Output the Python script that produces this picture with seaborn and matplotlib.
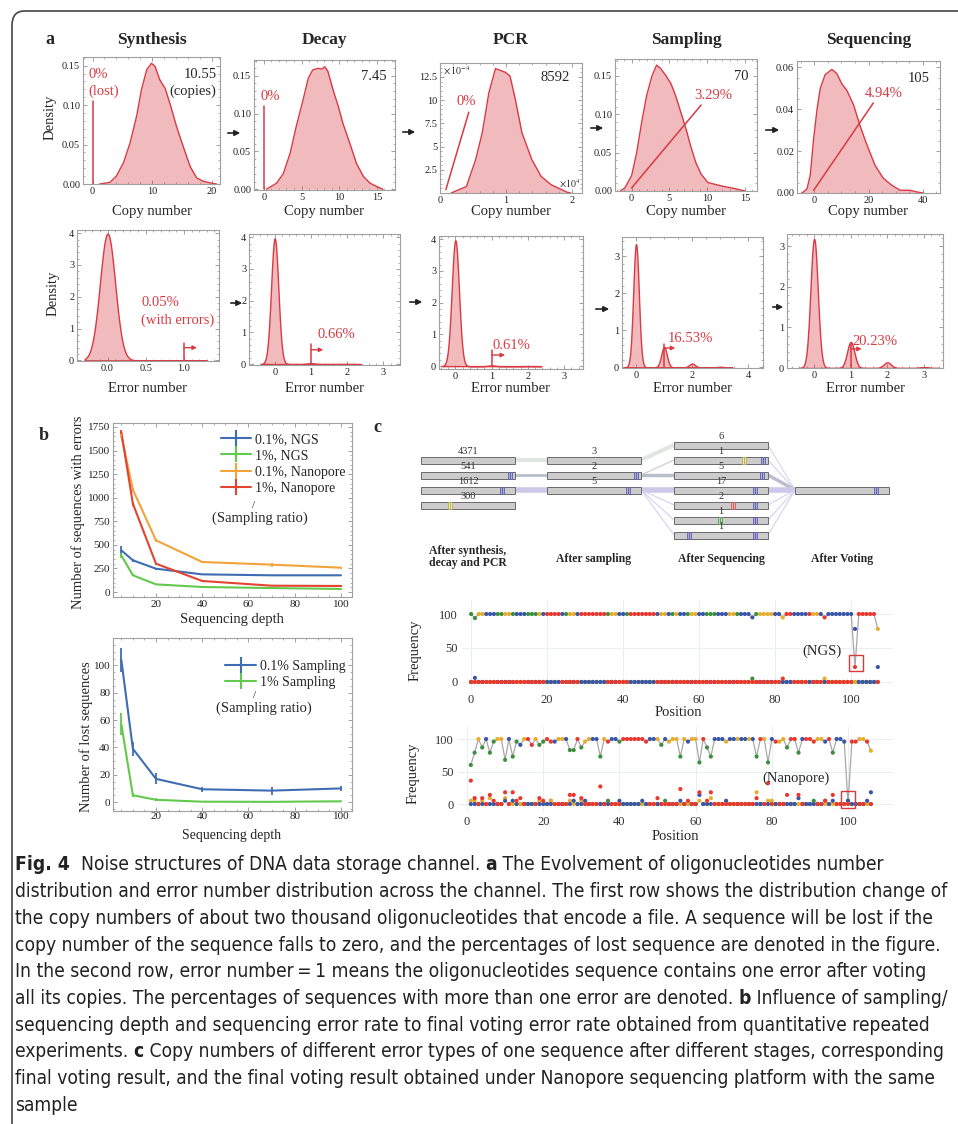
import numpy as np
import pandas as pd
import seaborn as sns
import matplotlib.pyplot as plt
from matplotlib.ticker import AutoMinorLocator, FixedLocator
from matplotlib.patches import FancyBboxPatch, FancyArrowPatch, Rectangle
from matplotlib.lines import Line2D
from matplotlib import font_manager

W, H = 958, 1124
sns.set_style("ticks")
plt.rcParams['font.family'] = ['Liberation Serif', 'DejaVu Serif']
plt.rcParams['mathtext.fontset'] = 'stix'

RED = '#d83a43'

# ---------------- panel a data ----------------
stages = ['Synthesis', 'Decay', 'PCR', 'Sampling', 'Sequencing']
mean_copies = ['10.55', '7.45', '8592', '70', '105']
lost_pct = ['0%', '0%', '0%', '3.29%', '4.94%']
err_pct = ['0.05%', '0.66%', '0.61%', '16.53%', '20.23%']

# copy number densities
syn_x = [1.2, 2.9, 4.0, 5.2, 6.3, 7.4, 8.2, 9.1, 9.9, 10.5, 11.3, 12.2, 13.0, 14.1, 15.2, 16.4, 17.5, 18.6, 20.0, 20.8]
syn_y = [0, 0.002, 0.010, 0.027, 0.052, 0.086, 0.119, 0.145, 0.153, 0.149, 0.132, 0.121, 0.102, 0.073, 0.048, 0.022, 0.0076, 0.0034, 0.001, 0]
dec_x = [0.35, 1.7, 2.6, 3.5, 4.3, 5.2, 5.9, 6.5, 7.2, 7.7, 8.1, 8.5, 9.2, 9.9, 10.5, 11.4, 12.3, 13.2, 14.1, 15.0, 15.8]
dec_y = [0, 0.008, 0.021, 0.048, 0.083, 0.118, 0.147, 0.158, 0.160, 0.159, 0.162, 0.156, 0.131, 0.109, 0.087, 0.061, 0.034, 0.017, 0.008, 0.0035, 0]
pcr_x = [0.17, 0.40, 0.54, 0.64, 0.74, 0.84, 0.99, 1.06, 1.14, 1.24, 1.39, 1.53, 1.68, 1.83, 1.93, 1.98]  # x1e4
pcr_y = [0, 0.7, 3.6, 6.5, 10.8, 13.4, 13.0, 12.6, 10.1, 6.5, 3.6, 1.8, 0.9, 0.4, 0.07, 0]  # x1e-4
smp_x = [-1.5, -0.9, 0, 0.67, 1.34, 2.0, 2.7, 3.3, 3.8, 4.5, 5.2, 5.8, 6.5, 7.2, 7.8, 8.5, 9.2, 10.1, 11.9, 13.7, 15.0]
smp_y = [0, 0.004, 0.02, 0.05, 0.09, 0.125, 0.15, 0.164, 0.16, 0.151, 0.14, 0.125, 0.103, 0.081, 0.059, 0.037, 0.022, 0.011, 0.0066, 0.003, 0]
seq_x = [-4.5, -2.7, -1.5, -0.25, 1.0, 2.2, 4.0, 6.5, 8.3, 10.2, 12, 14.5, 16.9, 19.4, 22.5, 25.5, 28.6, 31.7, 35.3, 37.8, 40.2]
seq_y = [0, 0.002, 0.0085, 0.026, 0.04, 0.05, 0.0565, 0.059, 0.057, 0.052, 0.049, 0.042, 0.032, 0.023, 0.013, 0.007, 0.0037, 0.0013, 0.0013, 0.0005, 0]
copy_curves = [(syn_x, syn_y), (dec_x, dec_y), (pcr_x, pcr_y), (smp_x, smp_y), (seq_x, seq_y)]

# error number per sequence: values and share of sequences
err_vals = [[0, 1], [0, 1, 2], [0, 1, 2], [0, 1, 2, 3], [0, 1, 2, 3]]
err_share = [[0.9995, 0.0005],
             [0.9934, 0.0060, 0.0006],
             [0.9939, 0.0055, 0.0006],
             [0.8347, 0.1375, 0.025, 0.003],
             [0.7977, 0.161, 0.0353, 0.006]]

# ---------------- panel b data ----------------
depth = [5, 10, 20, 40, 70, 100]
ngs_01 = [442, 336, 247, 187, 177, 177]
ngs_01_err = [45, 15, 10, 8, 8, 6]
ngs_1 = [389, 177, 81, 53, 42, 32]
ngs_1_err = [25, 10, 8, 5, 5, 5]
nano_01 = [1660, 1085, 548, 318, 290, 258]
nano_01_err = [20, 20, 15, 10, 20, 10]
nano_1 = [1696, 936, 300, 117, 67, 64]
nano_1_err = [20, 20, 10, 8, 8, 6]
lost_01 = [104, 39, 17, 9.4, 8.4, 10]
lost_01_err = [9, 5, 4, 2, 3, 2]
lost_1 = [57, 5, 1.7, 0.3, 0.2, 0.6]
lost_1_err = [8, 1.5, 1, 0.3, 0.3, 0.3]

# ---------------- panel c data ----------------
stage_names = ['After synthesis,\ndecay and PCR', 'After sampling', 'After Sequencing', 'After Voting']
stage_counts = [[4371, 541, 1612, 300], [3, 2, 5], [6, 1, 5, 17, 2, 1, 1], [None]]
stage_rows = [[-2, -1, 0, 1], [-2, -1, 0], [-3, -2, -1, 0, 1, 2, 3], [0]]
stage_marks = [[[], [(101, 'b')], [(92, 'b')], [(33, 'y')]],
               [[], [(101, 'b')], [(92, 'b')]],
               [[], [(80, 'y'), (101, 'b')], [(100, 'b')], [(92, 'b')], [(67, 'r'), (92, 'b')],
                [(52, 'g'), (92, 'b')], [(17, 'b'), (92, 'b')]],
               [[(92, 'b')]]]
# (from stage, from row, to row, width, colour)
links = [(0, -2, -2, 3, '#dfe5df'), (0, -1, -1, 2, '#b9c0cc'), (0, 0, 0, 4, '#cdc8ea'),
         (1, -2, -3, 3, '#e2e6e2'), (1, -1, -2, 1, '#d0d4dc'), (1, -1, -1, 2.5, '#b9c0cc'),
         (1, 0, 0, 4, '#cdc8ea'), (1, 0, 1, 0.8, '#d5d2ee'), (1, 0, 2, 0.8, '#d5d2ee'), (1, 0, 3, 0.8, '#d5d2ee'),
         (2, -3, 0, 1, '#dde0e6'), (2, -2, 0, 0.8, '#d5d2ee'), (2, -1, 0, 2.5, '#b9c0cc'), (2, 0, 0, 4, '#cdc8ea'),
         (2, 1, 0, 0.8, '#d5d2ee'), (2, 2, 0, 0.8, '#d5d2ee'), (2, 3, 0, 0.8, '#d5d2ee')]

# per-position base frequencies of the reference base, NGS and Nanopore
ngs_bases = ("ggoobbbggo" "ogbbbgggob" "rrrrbgoobr" "rrrrrrgoob" "bgrrrrrrrb"
             "oobgobbgoo" "bbgggbbboo" "gbbbbgoooo" "bborrbbbbr" "oobrbbbbbb" "brrrrrro")
ngs_freq = [100, 94, 100, 100, 100, 100, 100, 100, 100, 100,
            100, 100, 100, 100, 100, 100, 100, 100, 100, 100,
            100, 100, 100, 100, 100, 100, 100, 100, 100, 100,
            100, 100, 100, 100, 100, 100, 100, 100, 100, 100,
            100, 100, 100, 100, 100, 100, 100, 100, 100, 100,
            100, 100, 100, 100, 100, 100, 100, 100, 100, 100,
            100, 100, 100, 100, 100, 100, 100, 100, 100, 100,
            100, 100, 100, 100, 95, 100, 100, 100, 100, 100,
            100, 100, 95, 100, 100, 100, 100, 100, 100, 100,
            100, 100, 100, 95, 100, 100, 100, 100, 100, 100,
            100, 22, 100, 100, 100, 100, 100, 78]
ngs_minor = [(1, 'b', 6), (74, 'g', 5), (82, 'r', 5), (93, 'o', 5), (101, 'b', 78), (107, 'b', 22)]

nano_bases = ("ggogbggoog" "bggborrogg" "rrboobggrg" "oobbgorbbg" "rrrrrrrbbo"
              "gbooogoboo" "grggbbbobb" "obbobgrogb" "roogrrgbrr" "roobrgbbbr" "rrooro")
nano_freq = [60, 79, 100, 87, 100, 79, 96, 100, 100, 68,
             100, 73, 96, 91, 100, 100, 91, 100, 91, 96,
             100, 96, 96, 100, 100, 100, 83, 83, 100, 87,
             96, 100, 100, 100, 73, 100, 96, 100, 100, 96,
             100, 100, 100, 100, 100, 100, 96, 100, 100, 100,
             91, 100, 96, 100, 100, 73, 100, 96, 100, 100,
             64, 100, 87, 73, 100, 100, 100, 96, 100, 100,
             100, 100, 100, 100, 100, 73, 100, 100, 64, 100,
             96, 96, 100, 87, 100, 100, 79, 100, 100, 100,
             96, 100, 100, 96, 100, 79, 100, 100, 96, 0,
             96, 96, 100, 100, 96, 82]
nano_minor = [(1, 'r', 36), (1, 'o', 5), (2, 'r', 9), (2, 'o', 5), (4, 'r', 9), (4, 'o', 5), (6, 'r', 14),
              (6, 'o', 9), (7, 'r', 5), (10, 'r', 18), (10, 'o', 9), (10, 'b', 5), (12, 'r', 18), (12, 'b', 5),
              (13, 'r', 5), (14, 'r', 9), (19, 'r', 9), (19, 'o', 5), (20, 'r', 5), (22, 'g', 5), (22, 'o', 5),
              (27, 'r', 14), (27, 'o', 5), (28, 'r', 14), (28, 'b', 5), (30, 'r', 9), (30, 'o', 5), (31, 'b', 5),
              (35, 'r', 27), (37, 'g', 5), (40, 'b', 5), (46, 'b', 5), (50, 'r', 9), (52, 'g', 5), (56, 'r', 23),
              (56, 'b', 5), (58, 'r', 5), (61, 'r', 18), (61, 'b', 14), (61, 'o', 5), (63, 'r', 5), (64, 'r', 18),
              (64, 'o', 9), (68, 'b', 5), (76, 'o', 18), (76, 'r', 9), (79, 'r', 32), (79, 'o', 5), (80, 'o', 5),
              (84, 'r', 14), (87, 'r', 14), (87, 'b', 9), (91, 'g', 5), (94, 'r', 5), (94, 'g', 5), (96, 'r', 14),
              (96, 'b', 5), (100, 'g', 5), (100, 'b', 5), (100, 'o', 5), (105, 'b', 5), (106, 'b', 18)]
base_pal = {'r': '#e8382f', 'b': '#3a56a8', 'g': '#3d8f3d', 'o': '#e6ad2f'}

caption = [
    [("Fig. 4", True), ("  Noise structures of DNA data storage channel. ", False), ("a", True),
     (" The Evolvement of oligonucleotides number", False)],
    [("distribution and error number distribution across the channel. The first row shows the distribution change of", False)],
    [("the copy numbers of about two thousand oligonucleotides that encode a file. A sequence will be lost if the", False)],
    [("copy number of the sequence falls to zero, and the percentages of lost sequence are denoted in the figure.", False)],
    [("In the second row, error number\u2009=\u20091 means the oligonucleotides sequence contains one error after voting", False)],
    [("all its copies. The percentages of sequences with more than one error are denoted. ", False), ("b", True),
     (" Influence of sampling/", False)],
    [("sequencing depth and sequencing error rate to final voting error rate obtained from quantitative repeated", False)],
    [("experiments. ", False), ("c", True),
     (" Copy numbers of different error types of one sequence after different stages, corresponding", False)],
    [("final voting result, and the final voting result obtained under Nanopore sequencing platform with the same", False)],
    [("sample", False)],
]

# ---------------- helpers ----------------
fig = plt.figure(figsize=(W / 100, H / 100), dpi=100)


def px_axes(x0, y0, x1, y1):
    return fig.add_axes([x0 / W, 1 - y1 / H, (x1 - x0) / W, (y1 - y0) / H])


def ftext(x, y, s, **kw):
    return fig.text(x / W, 1 - y / H, s, **kw)


def farrow(x0, y0, x1, y1):
    fig.patches.append(FancyArrowPatch((x0 / W, 1 - y0 / H), (x1 / W, 1 - y1 / H), transform=fig.transFigure,
                                       arrowstyle='-|>', mutation_scale=8, lw=1.2, color='#222222'))


def frame_style(ax, size=7.5):
    for sp in ax.spines.values():
        sp.set_visible(True)
        sp.set_color('#a0a0a0')
        sp.set_linewidth(0.8)
    ax.tick_params(which='both', direction='in', top=True, right=True, color='#909090',
                   labelsize=size, labelcolor='#222222', pad=2)
    ax.tick_params(which='major', length=3, width=0.6)
    ax.tick_params(which='minor', length=1.5, width=0.5)
    ax.xaxis.set_minor_locator(AutoMinorLocator())
    ax.yaxis.set_minor_locator(AutoMinorLocator())
    ax.set_xlabel('')
    ax.set_ylabel('')


# frame of the figure
fig.patches.append(FancyBboxPatch((12 / W, -0.2), 1.2, 1.2 - 11 / H, transform=fig.transFigure,
                                  boxstyle='round,pad=0,rounding_size=0.013', fc='none', ec='#444444', lw=1.2))

# ---------------- panel a ----------------
row1_boxes = [(83, 57, 220, 184), (254, 60, 395, 190), (440, 63, 582, 193), (615, 59, 757, 191), (797, 61, 940, 193)]
row1_xlim = [(-1.6, 21.4), (-1.3, 17.4), (0, 2.15), (-2.2, 16.6), (-6.4, 46.4)]
row1_ylim = [(0, 0.161), (-0.001, 0.171), (0, 14.0), (0, 0.172), (0, 0.063)]
row1_xt = [[0, 10, 20], [0, 5, 10, 15], [0, 1, 2], [0, 5, 10, 15], [0, 20, 40]]
row1_yt = [[0, 0.05, 0.1, 0.15], [0, 0.05, 0.1, 0.15], [2.5, 5, 7.5, 10, 12.5], [0, 0.05, 0.1, 0.15],
           [0, 0.02, 0.04, 0.06]]
row2_boxes = [(77, 230, 219, 361), (249, 234, 400, 365), (439, 236, 583, 369), (622, 237, 763, 368), (787, 234, 943, 368)]
row2_xlim = [(-0.4, 1.46), (-0.71, 3.46), (-0.45, 3.52), (-0.5, 4.53), (-0.74, 3.52)]
row2_ylim = [(-0.02, 4.1), (-0.03, 4.1), (-0.09, 4.1), (-0.02, 3.52), (0, 3.3)]
row2_xt = [[0, 0.5, 1.0], [0, 1, 2, 3], [0, 1, 2, 3], [0, 2, 4], [0, 1, 2, 3]]
row2_yt = [[0, 1, 2, 3, 4], [0, 1, 2, 3, 4], [0, 1, 2, 3, 4], [0, 1, 2, 3], [0, 1, 2, 3]]

# annotation layout (data coords)
lost_line = [((0, 0), (0, 0.105)), ((0, 0), (0, 0.11)), ((0.089, 0.36), (0.436, 8.7)),
             ((0, 0.004), (9.2, 0.112)), ((-0.25, 0.0013), (21.8, 0.043))]
lost_txt = [(-0.7, 0.139, 'left'), (-0.44, 0.123, 'left'), (0.396, 9.9, 'center'),
            (10.8, 0.124, 'center'), (25.5, 0.0475, 'center')]
mean_txt = [(20.8, 0.139), (16.3, 0.149), (1.97, 12.4), (15.5, 0.149), (42.7, 0.0545)]
mark_top = [0.54, 0.63, 0.5, 0.64, 0.62]
mark_arrow = [(0.4, 1.17), (0.45, 1.34), (0.35, 1.37), (0.52, 1.4), (0.47, 1.3)]
err_txt = [(0.44, 1.82), (1.18, 0.92), (1.02, 0.66), (1.12, 0.79), (1.05, 0.66)]

ftext(50, 40, 'a', fontsize=13, fontweight='bold', ha='center', va='center')
for i in range(5):
    # copy number row
    ax = px_axes(*row1_boxes[i])
    xs, ys = copy_curves[i]
    sns.lineplot(x=xs, y=ys, ax=ax, color=RED, lw=1)
    ax.fill_between(xs, ys, color=RED, alpha=0.35, lw=0)
    (lx0, ly0), (lx1, ly1) = lost_line[i]
    ax.plot([lx0, lx1], [ly0, ly1], color=RED, lw=1.1)
    tx, ty, tha = lost_txt[i]
    ax.text(tx, ty, lost_pct[i], color=RED, fontsize=10.5, ha=tha, va='center')
    if i == 0:
        ax.text(tx, 0.117, '(lost)', color=RED, fontsize=10.5, ha='left', va='center')
        ax.text(mean_txt[i][0], 0.117, '(copies)', fontsize=10.5, ha='right', va='center')
    ax.text(mean_txt[i][0], mean_txt[i][1], mean_copies[i], fontsize=10.5, ha='right', va='center')
    ax.set_xlim(*row1_xlim[i])
    ax.set_ylim(*row1_ylim[i])
    frame_style(ax)
    ax.xaxis.set_major_locator(FixedLocator(row1_xt[i]))
    ax.yaxis.set_major_locator(FixedLocator(row1_yt[i]))
    if i == 2:
        ax.set_xticklabels(['0', '1', '2'])
        ax.set_yticklabels(['2.5', '5', '7.5', '10', '12.5'])
        ax.text(0.02, 0.985, r'$\times\,10^{-4}$', transform=ax.transAxes, fontsize=7, ha='left', va='top')
        ax.text(0.985, 0.02, r'$\times10^{4}$', transform=ax.transAxes, fontsize=7, ha='right', va='bottom')
    else:
        ax.set_yticklabels(['%.2f' % v for v in row1_yt[i]])
        ax.set_xticklabels([str(v) for v in row1_xt[i]])
    cx = (row1_boxes[i][0] + row1_boxes[i][2]) / 2
    ftext(cx, 40, stages[i], fontsize=12.5, fontweight='bold', ha='center', va='center')
    ftext(cx, 212, 'Copy number', fontsize=10.5, ha='center', va='center')

    # error number row
    ax = px_axes(*row2_boxes[i])
    vals = np.array(err_vals[i], dtype=float)
    w = np.array(err_share[i])
    bw = 0.1 / np.sqrt(np.cov(vals, aweights=w))
    sns.kdeplot(x=vals, weights=w, bw_method=bw, fill=True, color=RED, alpha=0.35, linewidth=1,
                gridsize=800, ax=ax)
    ax.plot([1, 1], [0, mark_top[i]], color=RED, lw=1.1)
    ay, ax1 = mark_arrow[i]
    ax.annotate('', xy=(ax1, ay), xytext=(1, ay),
                arrowprops=dict(arrowstyle='-|>', color=RED, lw=1, mutation_scale=6, shrinkA=0, shrinkB=0))
    ex, ey = err_txt[i]
    ax.text(ex, ey, err_pct[i], color=RED, fontsize=10.5, ha='left', va='center')
    if i == 0:
        ax.text(ex, 1.25, '(with errors)', color=RED, fontsize=10.5, ha='left', va='center')
    ax.set_xlim(*row2_xlim[i])
    ax.set_ylim(*row2_ylim[i])
    frame_style(ax)
    ax.xaxis.set_major_locator(FixedLocator(row2_xt[i]))
    ax.yaxis.set_major_locator(FixedLocator(row2_yt[i]))
    if i == 0:
        ax.set_xticklabels(['0.0', '0.5', '1.0'])
    else:
        ax.set_xticklabels([str(v) for v in row2_xt[i]])
    ax.set_yticklabels([str(v) for v in row2_yt[i]])
    cx = (row2_boxes[i][0] + row2_boxes[i][2]) / 2
    ftext(cx, 389, 'Error number', fontsize=10.5, ha='center', va='center')

ftext(50, 117, 'Density', fontsize=10.5, rotation=90, ha='center', va='center')
ftext(53, 293, 'Density', fontsize=10.5, rotation=90, ha='center', va='center')

for (x0, y0, x1, y1) in [(225, 133, 243, 133), (400, 132, 418, 132), (588, 128, 606, 128), (763, 130, 782, 130),
                         (228, 303, 245, 303), (407, 302, 425, 302), (593, 309, 612, 309), (770, 307, 786, 307)]:
    farrow(x0, y0, x1, y1)

# ---------------- panel b ----------------
ftext(44, 435, 'b', fontsize=13, fontweight='bold', ha='center', va='center')
b_pal = {'0.1%, NGS': '#3f6db3', '1%, NGS': '#62c94d', '0.1%, Nanopore': '#f2a33a', '1%, Nanopore': '#e2452f'}
b_vals = {'0.1%, NGS': (ngs_01, ngs_01_err), '1%, NGS': (ngs_1, ngs_1_err),
          '0.1%, Nanopore': (nano_01, nano_01_err), '1%, Nanopore': (nano_1, nano_1_err)}
df_b = pd.DataFrame([(d, v, k) for k, (vs, _) in b_vals.items() for d, v in zip(depth, vs)],
                    columns=['depth', 'count', 'series'])

ax = px_axes(113, 423, 352, 597)
sns.lineplot(data=df_b, x='depth', y='count', hue='series', palette=b_pal, lw=1.5, legend=False, ax=ax)
for k, (vs, es) in b_vals.items():
    ax.errorbar(depth, vs, yerr=es, fmt='none', ecolor=b_pal[k], elinewidth=1.3, capsize=0)
ax.set_xlim(1.4, 104.8)
ax.set_ylim(-53, 1792)
frame_style(ax, size=8)
ax.xaxis.set_major_locator(FixedLocator([20, 40, 60, 80, 100]))
ax.yaxis.set_major_locator(FixedLocator([0, 250, 500, 750, 1000, 1250, 1500, 1750]))
handles = [Line2D([0], [0], color=c, lw=1.5, marker='|', markersize=11, markeredgewidth=1.5) for c in b_pal.values()]
ax.legend(handles, list(b_pal.keys()), loc='upper left', bbox_to_anchor=(0.41, 1.0), frameon=False, fontsize=10,
          handlelength=2.2, labelspacing=0.25, handletextpad=0.3, borderpad=0.2)
ftext(254, 505, '/', fontsize=8, ha='center', va='center')
ftext(260, 518, '(Sampling ratio)', fontsize=10.5, ha='center', va='center')
ftext(78, 512, 'Number of sequences with errors', fontsize=10.5, rotation=90, ha='center', va='center')
ftext(232, 620, 'Sequencing depth', fontsize=10.5, ha='center', va='center')

l_pal = {'0.1% Sampling': '#3f6db3', '1% Sampling': '#62c94d'}
l_vals = {'0.1% Sampling': (lost_01, lost_01_err), '1% Sampling': (lost_1, lost_1_err)}
df_l = pd.DataFrame([(d, v, k) for k, (vs, _) in l_vals.items() for d, v in zip(depth, vs)],
                    columns=['depth', 'lost', 'series'])
ax = px_axes(113, 638, 352, 811)
sns.lineplot(data=df_l, x='depth', y='lost', hue='series', palette=l_pal, lw=1.5, legend=False, ax=ax)
for k, (vs, es) in l_vals.items():
    ax.errorbar(depth, vs, yerr=es, fmt='none', ecolor=l_pal[k], elinewidth=1.3, capsize=0)
ax.set_xlim(1.4, 104.8)
ax.set_ylim(-6.5, 120)
frame_style(ax, size=8)
ax.tick_params(axis='x', pad=1)
ax.xaxis.set_major_locator(FixedLocator([20, 40, 60, 80, 100]))
ax.yaxis.set_major_locator(FixedLocator([0, 20, 40, 60, 80, 100]))
handles = [Line2D([0], [0], color=c, lw=1.5, marker='|', markersize=11, markeredgewidth=1.5) for c in l_pal.values()]
ax.legend(handles, list(l_pal.keys()), loc='upper left', bbox_to_anchor=(0.43, 0.93), frameon=False, fontsize=10,
          handlelength=2.2, labelspacing=0.25, handletextpad=0.3, borderpad=0.2)
ftext(255, 696, '/', fontsize=8, ha='center', va='center')
ftext(264, 708, '(Sampling ratio)', fontsize=10.5, ha='center', va='center')
ftext(86, 737, 'Number of lost sequences', fontsize=10.5, rotation=90, ha='center', va='center')
ftext(232, 835, 'Sequencing depth', fontsize=10, ha='center', va='center')

# ---------------- panel c: diagram ----------------
ftext(377, 427, 'c', fontsize=13, fontweight='bold', ha='center', va='center')
axd = px_axes(400, 425, 958, 575)
axd.set_xlim(400, 958)
axd.set_ylim(575, 425)
axd.axis('off')
col_left = [421, 547, 674, 795]
bar_len, bar_h, row_y0, row_step, seq_len = 94, 7, 490, 15, 107
mark_col = {'b': ('#aaaadd', '#6060a8'), 'y': ('#f5f0a0', '#b0a860'), 'r': ('#f4a8a8', '#c06060'),
            'g': ('#b0dca8', '#60a060')}
for c0, r0, r1, lw, col in links:
    axd.plot([col_left[c0] + bar_len, col_left[c0 + 1]], [row_y0 + r0 * row_step, row_y0 + r1 * row_step],
             color=col, lw=lw, solid_capstyle='butt', zorder=1)
for c in range(4):
    for count, row, marks in zip(stage_counts[c], stage_rows[c], stage_marks[c]):
        y = row_y0 + row * row_step
        axd.barh(y, bar_len, left=col_left[c], height=bar_h, color='#cccccc', edgecolor='#6a6a6a', lw=0.7, zorder=2)
        for pos, kind in marks:
            mx = col_left[c] + pos / seq_len * bar_len
            fc, ec = mark_col[kind]
            for dx in (-2, 0):
                axd.barh(y, 2, left=mx + dx, height=bar_h, color=fc, edgecolor=ec, lw=0.6, zorder=3)
        if count is not None:
            axd.text(col_left[c] + bar_len / 2, y - bar_h / 2 - 0.3, str(count), fontsize=7.5, ha='center',
                     va='bottom', color='#333333')
    label_y = 557 if c == 0 else 559
    axd.text(col_left[c] + bar_len / 2, label_y, stage_names[c], fontsize=8.5, fontweight='bold', ha='center',
             va='center', linespacing=1.1)


# ---------------- panel c: frequency plots ----------------
def freq_table(bases, freq, minor, start):
    rows = []
    positions = list(range(start, start + len(bases)))
    table = {}
    for p, b, f in zip(positions, bases, freq):
        for bb in 'gobr':
            table[(p, bb)] = f if bb == b else 0
    for p, b, f in minor:
        if table[(p, b)] == 0:
            table[(p, b)] = f
    for bb in 'gobr':
        for p in positions:
            rows.append((p, bb, table[(p, bb)]))
    return positions, pd.DataFrame(rows, columns=['pos', 'base', 'freq'])


def freq_axes(box, xlim, ylim, bases, freq, minor, start, rect, label, label_xy, ylab_xy, xlab_xy):
    ax = px_axes(*box)
    positions, df = freq_table(bases, freq, minor, start)
    sns.lineplot(x=positions, y=freq, ax=ax, color='#a8a8a8', lw=0.9, zorder=2)
    sns.scatterplot(data=df, x='pos', y='freq', hue='base', palette=base_pal, s=9, linewidth=0, legend=False,
                    ax=ax, zorder=3)
    ax.set_xlim(*xlim)
    ax.set_ylim(*ylim)
    for sp in ax.spines.values():
        sp.set_visible(False)
    ax.grid(True, color='#eceef3', lw=0.8)
    ax.set_axisbelow(True)
    ax.xaxis.set_major_locator(FixedLocator([0, 20, 40, 60, 80, 100]))
    ax.yaxis.set_major_locator(FixedLocator([0, 50, 100]))
    ax.tick_params(length=0, labelsize=9, labelcolor='#333333', pad=3)
    ax.set_xlabel('')
    ax.set_ylabel('')
    ax.add_patch(Rectangle(rect[:2], rect[2], rect[3], fill=False, ec='#d83a3a', lw=1, zorder=4))
    ax.text(label_xy[0], label_xy[1], label, fontsize=10.5, ha='center', va='center')
    ftext(ylab_xy[0], ylab_xy[1], 'Frequency', fontsize=10.5, rotation=90, ha='center', va='center')
    ftext(xlab_xy[0], xlab_xy[1], 'Position', fontsize=10.5, ha='center', va='center')


freq_axes((462, 600, 893, 690), (-2.4, 111), (-11.8, 120.6), ngs_bases, ngs_freq, ngs_minor, 0,
          (99.4, 16, 3.8, 24), '(NGS)', (92.4, 45), (415, 650), (678, 713))
freq_axes((458, 727, 893, 812), (-2.36, 111.8), (-12.3, 118.5), nano_bases, nano_freq, nano_minor, 1,
          (98.1, -6, 3.7, 25.5), '(Nanopore)', (86.3, 40), (413, 773), (675, 837))

# ---------------- caption ----------------
names = {f.name for f in font_manager.fontManager.ttflist}
if 'Liberation Sans Narrow' in names:
    cap_family, cap_stretch = 'Liberation Sans Narrow', 'normal'
else:
    cap_family, cap_stretch = 'DejaVu Sans', 'condensed'
renderer = fig.canvas.get_renderer()


def text_w(s, bold, size):
    t = fig.text(0, 0, s, fontsize=size, fontweight='bold' if bold else 'normal', family=cap_family,
                 fontstretch=cap_stretch)
    wdt = t.get_window_extent(renderer).width
    t.remove()
    return wdt


def seg_w(s, bold, size):
    return text_w(s + '|', bold, size) - text_w('|', bold, size)


cap_size = 12 * 935 / seg_w(caption[1][0][0], False, 12)
for i, segs in enumerate(caption):
    x = 15
    y = 865 + i * 26.7
    for s, bold in segs:
        ftext(x, y, s, fontsize=cap_size, fontweight='bold' if bold else 'normal', family=cap_family,
              fontstretch=cap_stretch, ha='left', va='center', color='#222222')
        x += seg_w(s, bold, cap_size)

fig.savefig('out.png', dpi=100)
